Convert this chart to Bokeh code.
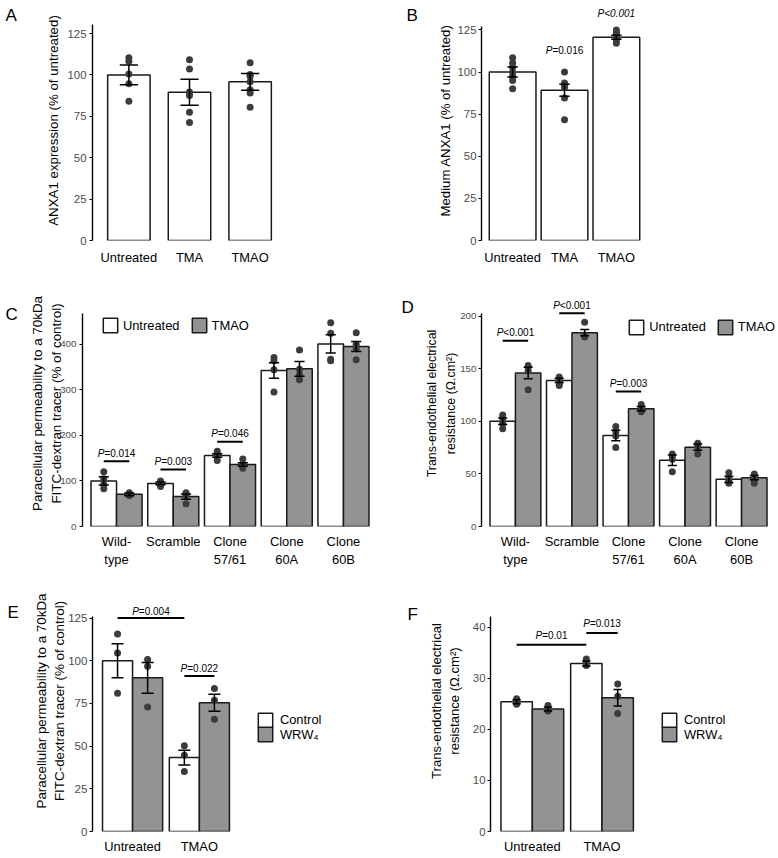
from bokeh.plotting import figure
from bokeh.models import FixedTicker, Label, Legend, LegendItem, Range1d
from bokeh.layouts import column, row
from bokeh.embed import file_html
from bokeh.resources import INLINE

FONT = "Liberation Sans"
BAR_WHITE = "#ffffff"
BAR_GREY = "#939393"
EDGE = "#1a1a1a"
DOT = "#3c3c3c"
TICK_GREY = "#4d4d4d"

# ================= DATA =================
# Panel A
a_cats = ["Untreated", "TMA", "TMAO"]
a_mean = [100.0, 89.5, 95.8]
a_sem = [6.0, 7.8, 5.0]
a_pts_untreated = [110.3, 108.3, 100.6, 94.6, 84.1]
a_pts_tma = [109.1, 103.5, 89.6, 87.6, 77.5, 71.3]
a_pts_tmao = [107.3, 100.2, 99.2, 95.8, 91.0, 89.0, 80.5]
a_ticks = [0, 25, 50, 75, 100, 125]

# Panel B
b_cats = ["Untreated", "TMA", "TMAO"]
b_mean = [100.0, 89.2, 120.6]
b_sem = [3.0, 3.6, 1.2]
b_pts_untreated = [108.4, 105.4, 102.8, 99.8, 97.3, 94.9, 90.0]
b_pts_tma = [100.0, 93.5, 92.5, 90.6, 84.6, 71.6]
b_pts_tmao = [125.0, 123.5, 122.5, 121.5, 120.5, 119.0, 117.0]
b_ticks = [0, 25, 50, 75, 100, 125]
b_p_text = ["=0.016", "<0.001"]
b_p_group = [2, 3]
b_p_y = [112.8, 134.5]

# Panel C
c_groups = ["Wild-\ntype", "Scramble", "Clone\n57/61", "Clone\n60A", "Clone\n60B"]
c_untreated_mean = [100.0, 94.6, 155.8, 342.4, 400.7]
c_untreated_sem = [9.0, 3.0, 4.0, 17.0, 20.0]
c_tmao_mean = [70.6, 65.6, 136.0, 346.0, 394.8]
c_tmao_sem = [3.0, 6.0, 4.0, 16.0, 11.0]
c_pts_untreated = [[120, 105, 92, 83], [100, 97, 93, 88], [165, 160, 153, 145],
                   [370.7, 363.5, 344, 295], [447, 424, 367, 363.5]]
c_pts_tmao = [[74, 71, 69, 68], [74, 70, 68, 50], [148, 137, 132, 128],
              [387.5, 345, 333, 322], [425, 400, 390, 366]]
c_ticks = [0, 100, 200, 300, 400]
c_p_text = ["=0.014", "=0.003", "=0.046"]
c_p_line_y = [143.4, 125.0, 185.8]

# Panel D
d_groups = ["Wild-\ntype", "Scramble", "Clone\n57/61", "Clone\n60A", "Clone\n60B"]
d_untreated_mean = [100.0, 138.8, 86.4, 63.0, 44.8]
d_untreated_sem = [3.0, 2.0, 5.0, 5.0, 3.0]
d_tmao_mean = [145.8, 184.2, 112.0, 75.4, 46.4]
d_tmao_sem = [5.5, 3.0, 2.0, 3.0, 2.0]
d_pts_untreated = [[106, 103, 98, 93], [142, 140, 138, 136, 134], [95, 90, 86, 75],
                   [69, 67, 64, 52], [51, 46, 44, 42, 41]]
d_pts_tmao = [[153, 151, 148, 130], [194, 182, 181, 180], [116, 113, 111, 109],
              [79, 77, 76, 69], [50, 48, 47, 45, 41]]
d_ticks = [0, 50, 100, 150, 200]
d_p_text = ["<0.001", "<0.001", "=0.003"]
d_p_line_y = [176.6, 202.6, 128.3]

# Panel E
e_groups = ["Untreated", "TMAO"]
e_control_mean = [100.0, 43.3]
e_control_sem = [10.0, 4.3]
e_wrw_mean = [90.0, 75.4]
e_wrw_sem = [9.0, 5.0]
e_pts_control = [[115.7, 104.6, 80.9], [50.2, 44.7, 35.2]]
e_pts_wrw = [[100.7, 96.8, 72.9], [83.8, 76.8, 65.7]]
e_ticks = [0, 25, 50, 75, 100, 125]
e_p_between = ("=0.004", 125.0)
e_p_within = ("=0.022", 91.0)

# Panel F
f_groups = ["Untreated", "TMAO"]
f_control_mean = [25.4, 32.9]
f_control_sem = [0.4, 0.5]
f_wrw_mean = [24.0, 26.2]
f_wrw_sem = [0.4, 1.6]
f_pts_control = [[26.0, 25.6, 25.2, 24.9], [33.8, 33.0, 32.5]]
f_pts_wrw = [[24.7, 24.0, 23.6], [28.9, 26.5, 23.1]]
f_ticks = [0, 10, 20, 30, 40]
f_p_between = ("=0.01", 36.6)
f_p_within = ("=0.013", 38.9)

# ================= HELPERS =================
CW = {"P": 0.667, "=": 0.584, "<": 0.584, ".": 0.278}


def tw(s, fs):
    return sum(CW.get(c, 0.556) for c in s) * fs


def make_fig(w, h, fl, fw, fh, xr, y_top, y_axis_top):
    p = figure(width=w, height=h, x_range=Range1d(*xr), y_range=Range1d(0, y_top),
               output_backend="svg", toolbar_location=None,
               min_border_left=fl, min_border_top=0,
               min_border_right=w - fl - fw, min_border_bottom=h - fh)
    p.outline_line_color = None
    p.xgrid.visible = False
    p.ygrid.visible = False
    p.background_fill_color = "white"
    p.border_fill_color = "white"
    p.yaxis[0].bounds = (0, y_axis_top)
    return p


def letter_fig(w, h, text, x, y):
    p = figure(width=w, height=h, x_range=Range1d(0, w), y_range=Range1d(0, h),
               x_axis_type=None, y_axis_type=None, output_backend="svg",
               toolbar_location=None, min_border=0)
    p.outline_line_color = None
    p.xgrid.visible = False
    p.ygrid.visible = False
    p.add_layout(Label(x=x, y=y, text=text, text_font=FONT, text_font_size="17px",
                       text_baseline="alphabetic", text_align="left", text_color="black"))
    return p


def style_y(p, ticks, tick_fs, tick_std, label, label_fs, label_std, line_h=1.2):
    ax = p.yaxis[0]
    ax.ticker = FixedTicker(ticks=ticks)
    ax.minor_tick_line_color = None
    ax.major_tick_in = 0
    ax.major_tick_out = 3
    ax.major_tick_line_color = "black"
    ax.major_tick_line_width = 1
    ax.axis_line_color = "black"
    ax.axis_line_width = 1.4
    ax.major_label_text_font = FONT
    ax.major_label_text_font_size = tick_fs
    ax.major_label_text_color = TICK_GREY
    ax.major_label_standoff = tick_std
    ax.axis_label = label
    ax.axis_label_text_font = FONT
    ax.axis_label_text_font_size = label_fs
    ax.axis_label_text_font_style = "normal"
    ax.axis_label_text_color = "black"
    ax.axis_label_standoff = label_std
    ax.axis_label_text_line_height = line_h


def style_x(p, centers, labels, std, fs="12.9px", line_h=1.25):
    ax = p.xaxis[0]
    ax.ticker = FixedTicker(ticks=centers)
    ax.major_label_overrides = {c: l for c, l in zip(centers, labels)}
    ax.axis_line_color = None
    ax.major_tick_line_color = None
    ax.minor_tick_line_color = None
    ax.major_tick_in = 0
    ax.major_tick_out = 0
    ax.major_label_standoff = std
    ax.major_label_text_font = FONT
    ax.major_label_text_font_size = fs
    ax.major_label_text_color = "black"
    ax.major_label_text_line_height = line_h


def bars(p, xs, tops, width, color):
    return p.vbar(x=xs, top=tops, bottom=0, width=width, fill_color=color,
                  line_color=EDGE, line_width=1.5)


def dots(p, x, vals):
    p.scatter(x=[x] * len(vals), y=vals, size=7, fill_color=DOT, line_color=None)


def errbar(p, xs, means, sems, half):
    lo = [m - s for m, s in zip(means, sems)]
    hi = [m + s for m, s in zip(means, sems)]
    p.segment(x0=xs, y0=lo, x1=xs, y1=hi, line_color="black", line_width=1.5)
    p.segment(x0=[x - half for x in xs], y0=hi, x1=[x + half for x in xs], y1=hi,
              line_color="black", line_width=1.5)
    p.segment(x0=[x - half for x in xs], y0=lo, x1=[x + half for x in xs], y1=lo,
              line_color="black", line_width=1.5)


def sig_line(p, x0, x1, y):
    p.segment(x0=[x0], y0=[y], x1=[x1], y1=[y], line_color="black", line_width=2)


def p_value(p, xc, y, rest, yoff, all_italic=False, fs=10):
    size = "%spx" % fs
    if all_italic:
        p.add_layout(Label(x=xc, y=y, y_offset=yoff, text="P" + rest, text_font=FONT,
                           text_font_size=size, text_font_style="italic",
                           text_align="center", text_baseline="middle", text_color="black"))
        return
    dx = (tw("P", fs) - tw(rest, fs)) / 2.0
    p.add_layout(Label(x=xc, y=y, x_offset=dx, y_offset=yoff, text="P", text_font=FONT,
                       text_font_size=size, text_font_style="italic",
                       text_align="right", text_baseline="middle", text_color="black"))
    p.add_layout(Label(x=xc, y=y, x_offset=dx, y_offset=yoff, text=rest, text_font=FONT,
                       text_font_size=size, text_align="left", text_baseline="middle",
                       text_color="black"))


def legend(p, items, orientation, loc, glyph, spacing, standoff):
    lg = Legend(items=[LegendItem(label=l, renderers=[r]) for l, r in items],
                orientation=orientation, location=loc, glyph_width=glyph,
                glyph_height=glyph, label_height=glyph, label_width=10,
                spacing=spacing, label_standoff=standoff, padding=0, margin=0,
                border_line_color=None, background_fill_alpha=0,
                label_text_font=FONT, label_text_font_size="12.9px",
                label_text_color="black")
    p.add_layout(lg)


def stacked_legend(p, items, x, y_top_from_bottom, glyph, standoff):
    # one legend per key so that the keys touch each other (as in the reference)
    step = glyph * 0.8
    for k, (lab, r) in enumerate(items):
        legend(p, [(lab, r)], "vertical", (x, y_top_from_bottom - glyph - k * step),
               glyph, 0, standoff)


# ================= PANEL A =================
lA = letter_fig(22, 280, "A", 5, 263)
pA = make_fig(367, 280, 70, 194, 240, (0.4, 3.6), 240 / 1.656, 130.4)
xa = [i + 1 for i in range(len(a_cats))]
bars(pA, xa, a_mean, 0.7, BAR_WHITE)
for x, pts in zip(xa, [a_pts_untreated, a_pts_tma, a_pts_tmao]):
    dots(pA, x, pts)
errbar(pA, xa, a_mean, a_sem, 0.15)
style_y(pA, a_ticks, "11.4px", 3, "ANXA1 expression (% of untreated)", "13.3px", 3)
style_x(pA, xa, a_cats, 9)

# ================= PANEL B =================
lB = letter_fig(34, 280, "B", 17, 263)
pB = make_fig(353, 280, 58, 166, 240, (0.4, 3.6), 240 / 1.685, 127)
xb = [i + 1 for i in range(len(b_cats))]
bars(pB, xb, b_mean, 0.9, BAR_WHITE)
for x, pts in zip(xb, [b_pts_untreated, b_pts_tma, b_pts_tmao]):
    dots(pB, x, pts)
errbar(pB, xb, b_mean, b_sem, 0.1)
style_y(pB, b_ticks, "11.4px", 2, "Medium ANXA1 (% of untreated)", "13.2px", 1)
style_x(pB, xb, b_cats, 9)
p_value(pB, b_p_group[0], b_p_y[0], b_p_text[0], 0)
p_value(pB, b_p_group[1], b_p_y[1], b_p_text[1], 0, all_italic=True)

# ================= PANEL C =================
lC = letter_fig(22, 290, "C", 5, 250)
pC = make_fig(367, 290, 60, 295, 247, (0.4, 5.6), 247 / 0.4575, 468)
xc = [i + 1 for i in range(len(c_groups))]
xcu = [x - 0.225 for x in xc]
xct = [x + 0.225 for x in xc]
rCu = bars(pC, xcu, c_untreated_mean, 0.45, BAR_WHITE)
rCt = bars(pC, xct, c_tmao_mean, 0.45, BAR_GREY)
for x, pts in zip(xcu, c_pts_untreated):
    dots(pC, x, pts)
for x, pts in zip(xct, c_pts_tmao):
    dots(pC, x, pts)
errbar(pC, xcu, c_untreated_mean, c_untreated_sem, 0.09)
errbar(pC, xct, c_tmao_mean, c_tmao_sem, 0.09)
for i, (txt, ly) in enumerate(zip(c_p_text, c_p_line_y)):
    sig_line(pC, xcu[i], xct[i], ly)
    p_value(pC, xc[i], ly, txt, 8)
style_y(pC, c_ticks, "9.8px", 3,
        "Paracellular permeability to a 70kDa\nFITC-dextran tracer (% of control)",
        "13.4px", -7, 1.25)
style_x(pC, xc, c_groups, 7)
legend(pC, [("Untreated", rCu), ("TMAO", rCt)], "horizontal", (18.9, 191.8), 18, 10, 4)

# ================= PANEL D =================
lD = letter_fig(26, 290, "D", 12, 258)
pD = make_fig(361, 290, 66, 294, 247, (0.4, 5.6), 247 / 1.0565, 202.6)
xd = [i + 1 for i in range(len(d_groups))]
xdu = [x - 0.225 for x in xd]
xdt = [x + 0.225 for x in xd]
rDu = bars(pD, xdu, d_untreated_mean, 0.45, BAR_WHITE)
rDt = bars(pD, xdt, d_tmao_mean, 0.45, BAR_GREY)
for x, pts in zip(xdu, d_pts_untreated):
    dots(pD, x, pts)
for x, pts in zip(xdt, d_pts_tmao):
    dots(pD, x, pts)
errbar(pD, xdu, d_untreated_mean, d_untreated_sem, 0.08)
errbar(pD, xdt, d_tmao_mean, d_tmao_sem, 0.08)
for i, (txt, ly) in enumerate(zip(d_p_text, d_p_line_y)):
    sig_line(pD, xdu[i], xdt[i], ly)
    p_value(pD, xd[i], ly, txt, 8)
style_y(pD, d_ticks, "9.8px", 2,
        "Trans-endothelial electrical\nresistance (\u03a9.cm\u00b2)", "12.4px", -1, 1.4)
style_x(pD, xd, d_groups, 7)
legend(pD, [("Untreated", rDu), ("TMAO", rDt)], "horizontal", (146.2, 190.4), 18, 10, 4)

# ================= PANEL E =================
lE = letter_fig(22, 286, "E", 7, 240)
pE = make_fig(367, 286, 70, 297, 262, (0.4, 0.4 + 297 / 66.8), 262 / 1.714, 126)
xe = [i + 1 for i in range(len(e_groups))]
xec = [x - 0.225 for x in xe]
xew = [x + 0.225 for x in xe]
rEc = bars(pE, xec, e_control_mean, 0.45, BAR_WHITE)
rEw = bars(pE, xew, e_wrw_mean, 0.45, BAR_GREY)
for x, pts in zip(xec, e_pts_control):
    dots(pE, x, pts)
for x, pts in zip(xew, e_pts_wrw):
    dots(pE, x, pts)
errbar(pE, xec, e_control_mean, e_control_sem, 0.09)
errbar(pE, xew, e_wrw_mean, e_wrw_sem, 0.09)
sig_line(pE, xec[0], xec[1], e_p_between[1])
p_value(pE, (xec[0] + xec[1]) / 2, e_p_between[1], e_p_between[0], 7)
sig_line(pE, xec[1], xew[1], e_p_within[1])
p_value(pE, xe[1], e_p_within[1], e_p_within[0], 8)
style_y(pE, e_ticks, "11.6px", 2,
        "Paracellular permeability to a 70kDa\nFITC-dextran tracer (% of control)",
        "13.4px", -2, 1.24)
style_x(pE, xe, e_groups, 7)
stacked_legend(pE, [("Control", rEc), ("WRW\u2084", rEw)], 163.9, 120.1, 18, 6)

# ================= PANEL F =================
lF = letter_fig(34, 286, "F", 18, 238)
pF = make_fig(353, 286, 67, 286, 262, (0.4, 0.4 + 286 / 69.7), 262 / 5.125, 42.1)
xf = [i + 1 for i in range(len(f_groups))]
xfc = [x - 0.225 for x in xf]
xfw = [x + 0.225 for x in xf]
rFc = bars(pF, xfc, f_control_mean, 0.45, BAR_WHITE)
rFw = bars(pF, xfw, f_wrw_mean, 0.45, BAR_GREY)
for x, pts in zip(xfc, f_pts_control):
    dots(pF, x, pts)
for x, pts in zip(xfw, f_pts_wrw):
    dots(pF, x, pts)
errbar(pF, xfc, f_control_mean, f_control_sem, 0.06)
errbar(pF, xfw, f_wrw_mean, f_wrw_sem, 0.06)
sig_line(pF, xfc[0], xfc[1], f_p_between[1])
p_value(pF, (xfc[0] + xfc[1]) / 2, f_p_between[1], f_p_between[0], 9)
sig_line(pF, xfc[1], xfw[1], f_p_within[1])
p_value(pF, xf[1], f_p_within[1], f_p_within[0], 9)
style_y(pF, f_ticks, "11.4px", 2,
        "Trans-endothelial electrical\nresistance (\u03a9.cm\u00b2)", "13.1px", 8, 1.2)
style_x(pF, xf, f_groups, 7)
stacked_legend(pF, [("Control", rFc), ("WRW\u2084", rFw)], 169.9, 120.1, 18, 6)

layout = column(row(lA, pA, lB, pB), row(lC, pC, lD, pD), row(lE, pE, lF, pF))
open("out.html", "w").write(file_html(layout, INLINE))
